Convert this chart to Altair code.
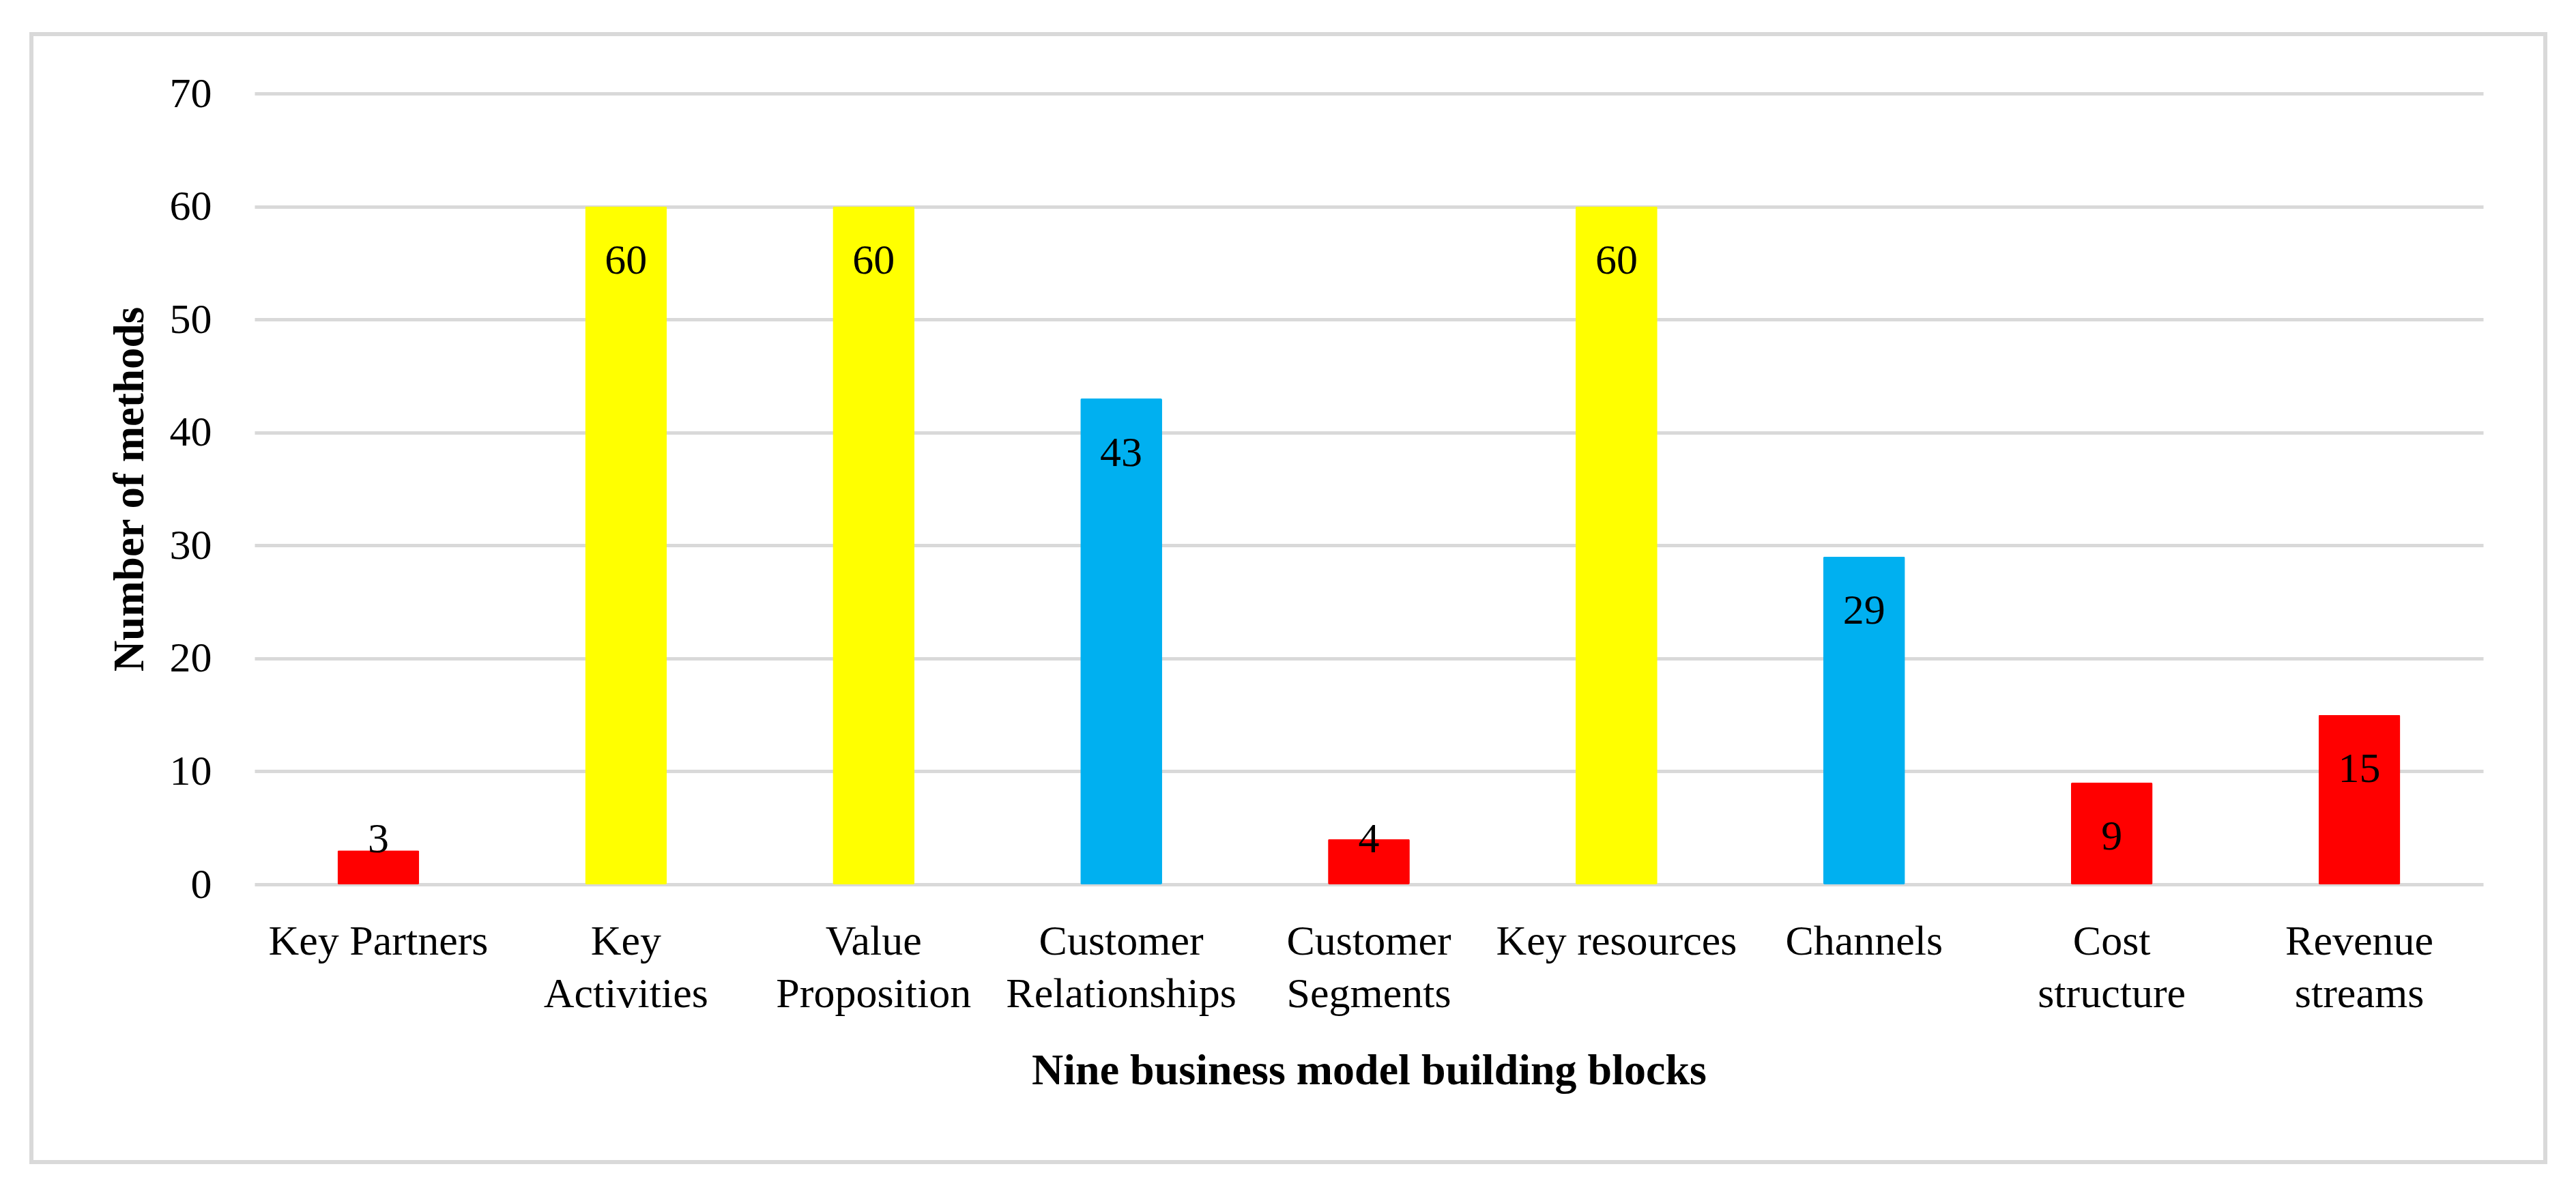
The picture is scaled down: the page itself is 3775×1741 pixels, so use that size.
import altair as alt
import pandas as pd

categories = ["Key Partners", "Key Activities", "Value Proposition", "Customer Relationships",
              "Customer Segments", "Key resources", "Channels", "Cost structure", "Revenue streams"]
label_lines = [["Key Partners"], ["Key", "Activities"], ["Value", "Proposition"],
               ["Customer", "Relationships"], ["Customer", "Segments"], ["Key resources"],
               ["Channels"], ["Cost", "structure"], ["Revenue", "streams"]]
values = [3, 60, 60, 43, 4, 60, 29, 9, 15]
groups = ["red", "yellow", "yellow", "blue", "red", "yellow", "blue", "red", "red"]
group_colors = {"red": "#FF0000", "yellow": "#FFFF00", "blue": "#00B0F0"}
y_ticks = [0, 10, 20, 30, 40, 50, 60, 70]

df = pd.DataFrame({"block": categories, "value": values, "group": groups})

FONT = "Liberation Serif"
GRID = "#D9D9D9"

single = [c for c, l in zip(categories, label_lines) if len(l) == 1]
single_js = "[" + ",".join("'" + s + "'" for s in single) + "]"
label_expr = f"indexof({single_js}, datum.label) >= 0 ? datum.label : split(datum.label, ' ')"

x_axis = alt.Axis(title="Nine business model building blocks", labelAngle=0,
                  labelExpr=label_expr, labelFont=FONT, labelFontSize=62,
                  labelColor="black", labelLineHeight=77, labelBaseline="top",
                  labelPadding=53, ticks=False, domain=False, grid=False,
                  titleFont=FONT, titleFontSize=64, titleFontWeight="bold",
                  titleColor="black", titlePadding=50, labelLimit=0)
y_axis = alt.Axis(title="Number of methods", values=y_ticks, grid=True,
                  gridColor=GRID, gridWidth=5, domain=False, ticks=False,
                  labelFont=FONT, labelFontSize=62, labelColor="black",
                  labelPadding=63, titleFont=FONT, titleFontSize=63,
                  titleFontWeight="bold", titleColor="black", titlePadding=26)

x_scale = alt.Scale(paddingInner=0.67, paddingOuter=0.335)
y_scale = alt.Scale(domain=[0, 70], nice=False)

bars = alt.Chart(df).mark_bar(cornerRadius=2).encode(
    x=alt.X("block:N", sort=categories, scale=x_scale, axis=x_axis),
    y=alt.Y("value:Q", scale=y_scale, axis=y_axis),
    color=alt.Color("group:N",
                    scale=alt.Scale(domain=list(group_colors.keys()),
                                    range=list(group_colors.values())),
                    legend=None),
)

labels = alt.Chart(df).transform_calculate(
    label_y="max(datum.value - 4.8, 4)"
).mark_text(font=FONT, fontSize=62, color="black", baseline="middle", align="center").encode(
    x=alt.X("block:N", sort=categories, scale=x_scale, axis=x_axis),
    y=alt.Y("label_y:Q", scale=y_scale, axis=y_axis),
    text=alt.Text("value:Q"),
)

frame = alt.Chart(alt.Data(values=[{}])).mark_rect(
    fillOpacity=0, stroke=GRID, strokeWidth=6, clip=False
).encode(
    x=alt.value(-327), x2=alt.value(3357), y=alt.value(-87), y2=alt.value(1566)
)

chart = alt.layer(bars, labels, frame).properties(
    width=3266, height=1159,
    padding={"left": 365, "top": 129, "right": 100, "bottom": 420},
    autosize=alt.AutoSizeParams(type="none"),
    background="white",
).configure_view(stroke=None)

chart.save("out.html", embed_options={"renderer": "svg", "actions": False})
